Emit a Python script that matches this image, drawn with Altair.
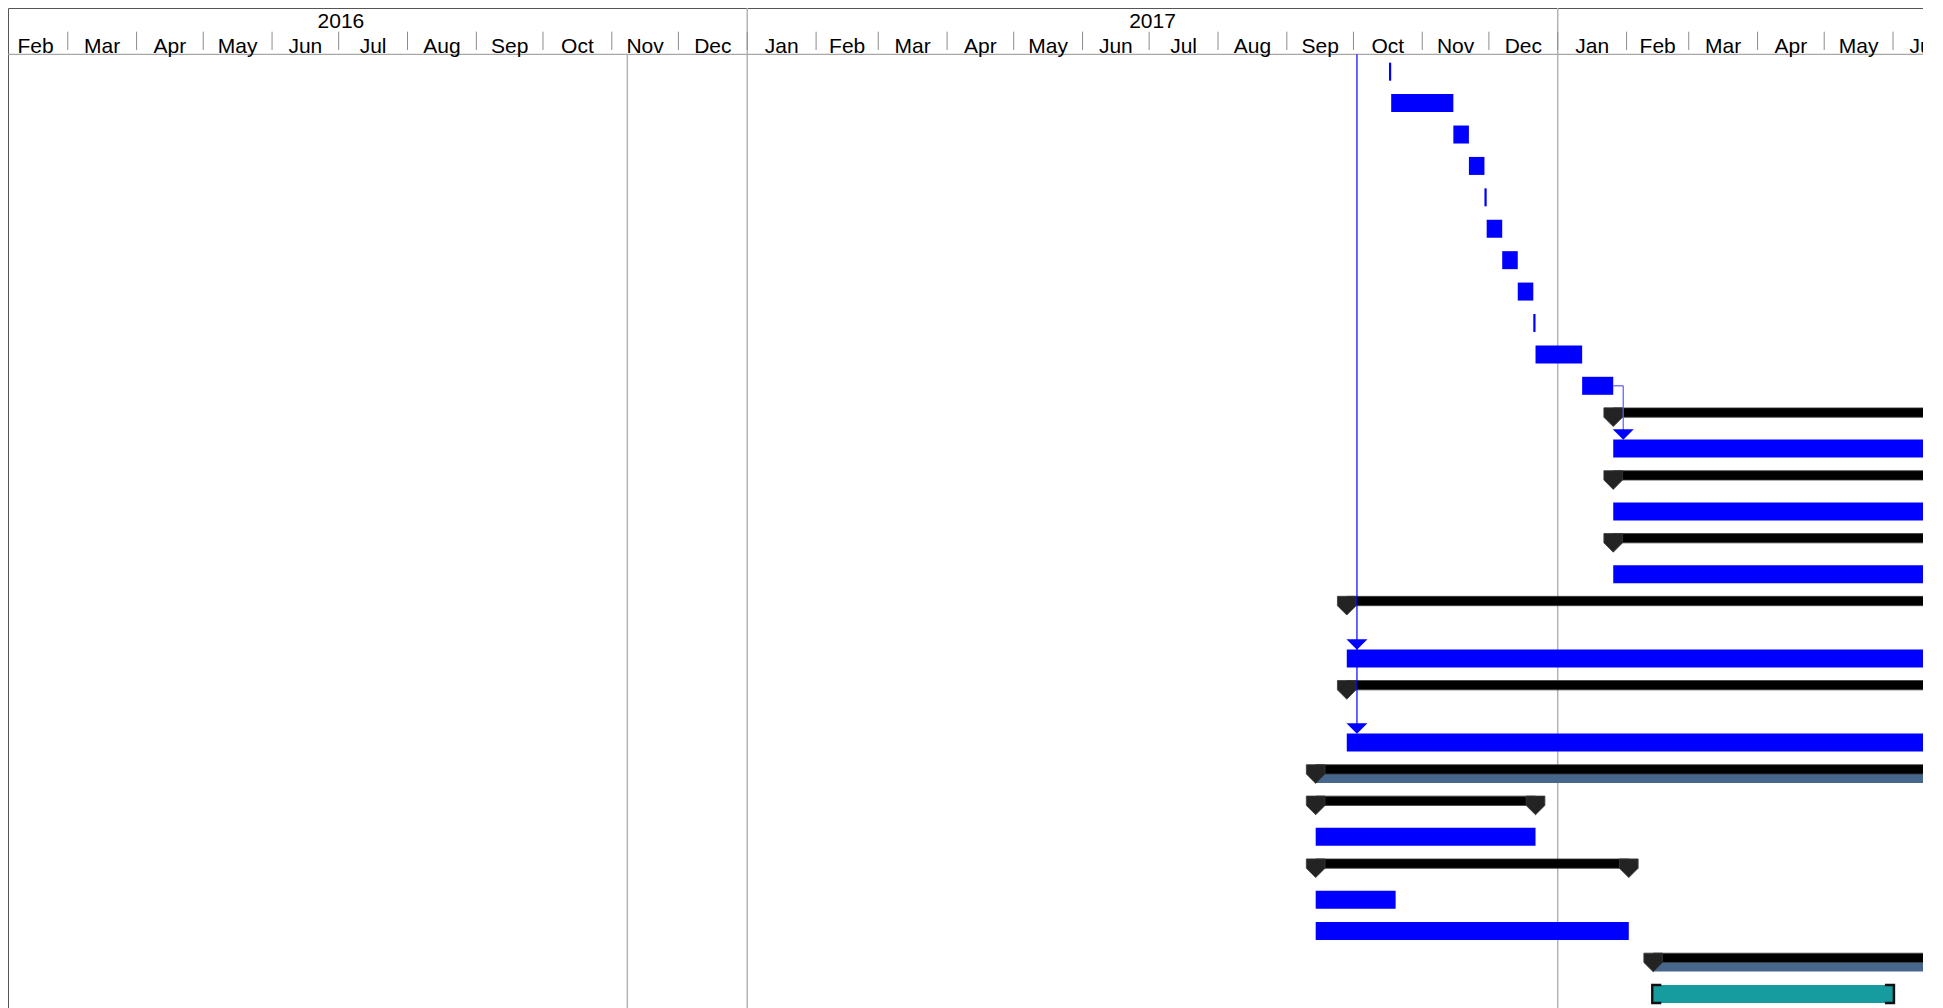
import altair as alt
import pandas as pd

# ---------------- data ----------------
task_start = [
    "2017-10-17", "2017-10-18", "2017-11-15", "2017-11-22", "2017-11-29",
    "2017-11-30", "2017-12-07", "2017-12-14", "2017-12-21", "2017-12-22",
    "2018-01-12",
    "2018-01-26", "2018-01-26", "2018-01-26", "2018-01-26", "2018-01-26", "2018-01-26",
    "2017-09-28", "2017-09-28", "2017-09-28", "2017-09-28",
    "2017-09-14", "2017-09-14", "2017-09-14", "2017-09-14", "2017-09-14", "2017-09-14",
    "2018-02-13", "2018-02-13",
]
task_end = [
    "2017-10-18", "2017-11-15", "2017-11-22", "2017-11-29", "2017-11-30",
    "2017-12-07", "2017-12-14", "2017-12-21", "2017-12-22", "2018-01-12",
    "2018-01-26",
    "2018-08-31", "2018-08-31", "2018-08-31", "2018-08-31", "2018-08-31", "2018-08-31",
    "2018-08-31", "2018-08-31", "2018-08-31", "2018-08-31",
    "2018-08-31", "2017-12-22", "2017-12-22", "2018-02-02", "2017-10-20", "2018-02-02",
    "2018-08-31", "2018-06-01",
]
task_kind = (["task"] * 11
             + ["summary", "task"] * 3
             + ["summary", "task", "summary", "task"]
             + ["project", "summary", "task", "summary", "task", "task", "project", "manual"])
row_lines = [1] * 17 + [2, 1, 2, 1] + [1] * 8   # rows with wrapped (two-line) names

# dependency links: arrow heads (row number, 1-based) and the date of the link's vertical leg
arrow_rows = [13, 19, 21]
arrow_dates = ["2018-01-30 12:00", "2017-10-02 14:00", "2017-10-02 14:00"]
connector_from_row = 11          # finish of task 11 -> task 13
status_date = "2016-11-08"        # grey vertical line in the body

years = [2016, 2017]

# ---------------- layout ----------------
W, H = 1915, 1000
ROW_PX = 31.41          # height of a one-line row
ROW0_PX = 63.7          # pixel centre of the first row
EXTRA = 0.68            # extra height of a two-line row, in rows
HEADER_PX = 46.3        # bottom of the timescale header

xscale = alt.Scale(domain=[alt.DateTime(year=2016, month=2, date=3, hours=2),
                           alt.DateTime(year=2018, month=6, date=14, hours=12)], nice=False)
yscale = alt.Scale(domain=[-ROW0_PX / ROW_PX, (H - ROW0_PX) / ROW_PX],
                   reverse=True, nice=False, zero=False)

# row positions in row units
pos, acc = [], 0.0
for n in row_lines:
    pos.append(acc)
    acc += 1 + EXTRA * (n - 1)

tasks = pd.DataFrame({
    "start": pd.to_datetime(task_start),
    "end": pd.to_datetime(task_end),
    "kind": task_kind,
    "pos": pos,
})

blue = tasks[tasks.kind == "task"]
summ = tasks[tasks.kind.isin(["summary", "project"])]
proj = tasks[tasks.kind == "project"]
manual = tasks[tasks.kind == "manual"]
pent = pd.DataFrame({
    "date": list(summ.start) + list(summ.end),
    "pos": list(summ.pos) + list(summ.pos),
})

month_starts = pd.date_range("2016-02-01", "2018-06-01", freq="MS")
months = pd.DataFrame({
    "start": month_starts,
    "mid": month_starts + (month_starts + pd.offsets.MonthBegin(1) - month_starts) / 2,
    "label": [d.strftime("%b") for d in month_starts],
})
year_df = pd.DataFrame({
    "label": [str(y) for y in years],
    "mid": [pd.Timestamp(f"{y}-01-01") + (pd.Timestamp(f"{y + 1}-01-01") - pd.Timestamp(f"{y}-01-01")) / 2
            for y in years],
})
year_lines = pd.DataFrame({"date": pd.to_datetime(["2017-01-01", "2018-01-01"])})
status = pd.DataFrame({"date": pd.to_datetime([status_date])})
one = pd.DataFrame({"a": [0]})

arrows = pd.DataFrame({
    "date": pd.to_datetime(arrow_dates),
    "pos": [pos[r - 1] for r in arrow_rows],
})
top_link = pd.DataFrame({
    "date": pd.to_datetime([arrow_dates[1]]),
    "y0": [(HEADER_PX - ROW0_PX) / ROW_PX],
    "y1": [pos[arrow_rows[2] - 1]],
})
conn_h = pd.DataFrame({
    "x0": [tasks.end[connector_from_row - 1]],
    "x1": pd.to_datetime([arrow_dates[0]]),
    "pos": [pos[connector_from_row - 1]],
})
conn_v = pd.DataFrame({
    "date": pd.to_datetime([arrow_dates[0]]),
    "y0": [pos[connector_from_row - 1]],
    "y1": [pos[arrow_rows[0] - 1]],
})


def X(field):
    return alt.X(f"{field}:T", scale=xscale, axis=None)


Y = alt.Y("pos:Q", scale=yscale, axis=None)
FONT = "Liberation Sans"
PENT = "M-1,-1L1,-1L1,0L0,1L-1,0Z"
TRI = "M-1,-0.5L1,-0.5L0,0.5Z"

layers = [
    # full-height year separators
    alt.Chart(year_lines).mark_rule(color="#b4b4b4", strokeWidth=1.5).encode(
        x=X("date"), y=alt.value(0), y2=alt.value(H)),
    # status line
    alt.Chart(status).mark_rule(color="#b4b4b4", strokeWidth=1.5).encode(
        x=X("date"), y=alt.value(HEADER_PX), y2=alt.value(H)),
    # month ticks in header
    alt.Chart(months).mark_rule(color="#8c8c8c", strokeWidth=1, clip=True).encode(
        x=X("start"), y=alt.value(23.7), y2=alt.value(42)),
    # header bottom line
    alt.Chart(one).mark_rule(color="#a8a8a8", strokeWidth=1.2).encode(
        x=alt.value(0), x2=alt.value(W), y=alt.value(HEADER_PX)),
    # month labels
    alt.Chart(months).mark_text(font=FONT, fontSize=21, baseline="alphabetic", align="center",
                                color="#000000", clip=True).encode(
        x=X("mid"), y=alt.value(45.3), text="label:N"),
    # year labels
    alt.Chart(year_df).mark_text(font=FONT, fontSize=21, baseline="alphabetic", align="center",
                                 color="#000000", clip=True).encode(
        x=X("mid"), y=alt.value(20), text="label:N"),
    # normal tasks
    alt.Chart(blue).mark_bar(color="#0000FF", yOffset=-9, y2Offset=9, clip=True).encode(
        x=X("start"), x2="end:T", y=Y, y2="pos:Q"),
    # project summary lower band
    alt.Chart(proj).mark_bar(color="#46678B", yOffset=0, y2Offset=9, clip=True).encode(
        x=X("start"), x2="end:T", y=Y, y2="pos:Q"),
    # summary bars
    alt.Chart(summ).mark_bar(color="#000000", stroke="#3c3c3c", strokeWidth=0.8,
                             yOffset=-9.3, y2Offset=0, clip=True).encode(
        x=X("start"), x2="end:T", y=Y, y2="pos:Q"),
    # summary end markers
    alt.Chart(pent).mark_point(shape=PENT, size=350, filled=True, color="#232323",
                               stroke="#3a3a3a", strokeWidth=0.8, opacity=1, clip=True).encode(
        x=X("date"), y=Y),
    # manually scheduled task
    alt.Chart(manual).mark_bar(color="#169B9F", yOffset=-9, y2Offset=9, clip=True).encode(
        x=X("start"), x2="end:T", y=Y, y2="pos:Q"),
    alt.Chart(manual).mark_point(shape="M0.9,-1L-0.1,-1L-0.1,1L0.9,1", size=324, filled=False,
                                 color="#111111", strokeWidth=2.5, opacity=1, clip=True).encode(
        x=X("start"), y=Y),
    alt.Chart(manual).mark_point(shape="M-0.9,-1L0.1,-1L0.1,1L-0.9,1", size=324, filled=False,
                                 color="#111111", strokeWidth=2.5, opacity=1, clip=True).encode(
        x=X("end"), y=Y),
    # links
    alt.Chart(top_link).mark_rule(color="#0000FF", strokeWidth=1.2, y2Offset=-16, clip=True).encode(
        x=X("date"), y=alt.Y("y0:Q", scale=yscale, axis=None), y2="y1:Q"),
    alt.Chart(conn_h).mark_rule(color="#5a5aff", strokeWidth=1.2, clip=True).encode(
        x=X("x0"), x2="x1:T", y=Y),
    alt.Chart(conn_v).mark_rule(color="#5a5aff", strokeWidth=1.2, y2Offset=-16, clip=True).encode(
        x=X("date"), y=alt.Y("y0:Q", scale=yscale, axis=None), y2="y1:Q"),
    alt.Chart(arrows).mark_point(shape=TRI, size=441, filled=True, color="#0000FF",
                                 opacity=1, yOffset=-14, clip=True).encode(
        x=X("date"), y=Y),
]

chart = alt.layer(*layers).properties(
    width=W, height=H, padding=0, autosize="none", background="white"
).configure_view(stroke="#555555", strokeWidth=1)

chart.save("out.html", embed_options={"renderer": "svg", "actions": False})
